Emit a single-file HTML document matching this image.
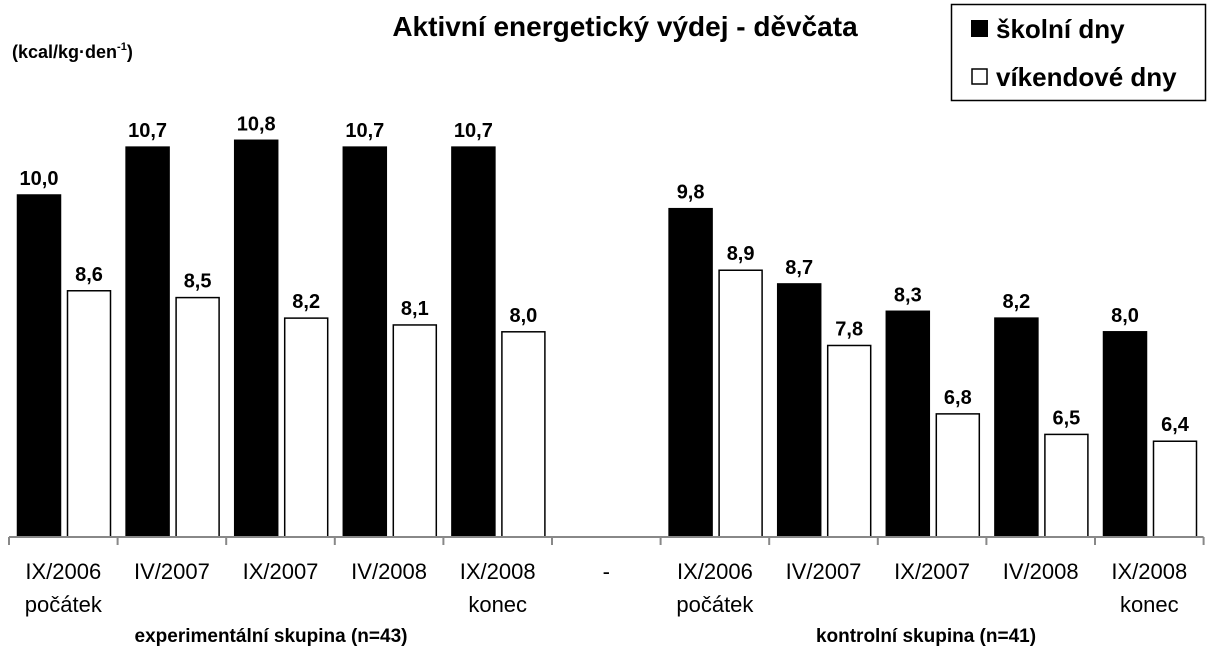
<!DOCTYPE html>
<html><head><meta charset="utf-8"><style>
body{margin:0;background:#fff;width:1208px;height:659px;overflow:hidden;font-family:"Liberation Sans",sans-serif}
</style></head><body>
<svg width="1208" height="659" id="c">
<text x="625" y="36" text-anchor="middle" font-weight="bold" font-size="28">Aktivní energetický výdej - děvčata</text>
<text x="12" y="58" font-weight="bold" font-size="18">(kcal/kg·den<tspan font-size="11" dy="-8">-1</tspan><tspan dy="8">)</tspan></text>
<g>
<rect x="951.5" y="4.5" width="254" height="96" fill="#fff" stroke="#000" stroke-width="1.5"/>
<rect x="971" y="20" width="17" height="17" fill="#000"/>
<text x="996" y="38" font-size="26" font-weight="bold">školní dny</text>
<rect x="972" y="69" width="15" height="15" fill="#fff" stroke="#000" stroke-width="1.5"/>
<text x="996" y="86" font-size="26" font-weight="bold">víkendové dny</text>
</g>
<g id="bars"></g>
<text x="271" y="642" text-anchor="middle" font-weight="bold" font-size="19">experimentální skupina (n=43)</text>
<text x="926" y="642" text-anchor="middle" font-weight="bold" font-size="19">kontrolní skupina (n=41)</text>
</svg>
<script>
const categories=["IX/2006|počátek","IV/2007","IX/2007","IV/2008","IX/2008|konec","-","IX/2006|počátek","IV/2007","IX/2007","IV/2008","IX/2008|konec"];
const schoolDays=[10.0,10.7,10.8,10.7,10.7,null,9.8,8.7,8.3,8.2,8.0];
const weekendDays=[8.6,8.5,8.2,8.1,8.0,null,8.9,7.8,6.8,6.5,6.4];
const yMin=5;
const base=537,pxU=68.4,x0=9,slot=108.6;
const y=v=>base-(v-yMin)*pxU;
const xs=i=>x0+i*slot;
const g=document.getElementById('bars');
const NS="http://www.w3.org/2000/svg";
function mk(t,a){const e=document.createElementNS(NS,t);for(const k in a)e.setAttribute(k,a[k]);g.appendChild(e);return e;}
const fmt=v=>v.toFixed(1).replace('.',',');
categories.forEach((c,i)=>{
 const s=xs(i);
 [[schoolDays[i],8,'#000'],[weekendDays[i],58,'#fff']].forEach(([v,off,f],k)=>{
  if(v==null)return;
  const r=mk('rect',{x:s+off+0.5,y:y(v),width:43,height:base-y(v),fill:f,stroke:'#000','stroke-width':1.5});
  
  
  const t=mk('text',{x:s+off+22,y:y(v)-10,'text-anchor':'middle','font-weight':'bold','font-size':20});
  t.textContent=fmt(v);
  
  
 });
 c.split('|').forEach((ln,j)=>{
  const t=mk('text',{x:s+slot/2,y:579+j*33,'text-anchor':'middle','font-size':22});
  t.textContent=ln;
  
  
 });
});
const ax=mk('line',{x1:x0,x2:xs(11),y1:base,y2:base,stroke:'#888','stroke-width':2});


for(let i=0;i<=11;i++){
 const tk=mk('line',{x1:xs(i),x2:xs(i),y1:base,y2:base+8,stroke:'#888','stroke-width':2});
 
 
}
</script>
</body></html>
